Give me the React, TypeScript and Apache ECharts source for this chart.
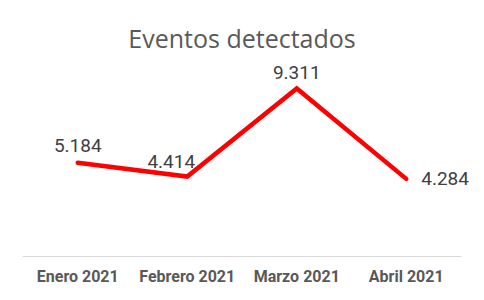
import React, { useEffect, useRef } from "react";
import * as echarts from "echarts";

const categories = ["Enero 2021", "Febrero 2021", "Marzo 2021", "Abril 2021"];
const values = [5184, 4414, 9311, 4284];
const titleText = "Eventos detectados";

const fmt = (v: number) => {
  const s = String(Math.round(v));
  return s.replace(/\B(?=(\d{3})+(?!\d))/g, ".");
};

export default function App() {
  const ref = useRef<HTMLDivElement>(null);
  useEffect(() => {
    document.body.style.margin = "0";
    const chart = echarts.init(ref.current!, undefined, { renderer: "svg" });
    const labelPos: any[] = [
      { position: "top", distance: 8 },
      { position: "top", distance: 6, offset: [-16, 0] },
      { position: "top", distance: 6 },
      { position: "right", distance: 15 },
    ];
    chart.setOption({
      animation: false,
      backgroundColor: "#ffffff",
      title: {
        text: titleText,
        left: "center",
        top: 20,
        textStyle: {
          fontFamily: "Open Sans",
          fontSize: 25,
          fontWeight: "normal",
          color: "#595959",
        },
      },
      grid: { left: 23, right: 23, top: 76, bottom: 44 },
      xAxis: {
        type: "category",
        data: categories,
        boundaryGap: true,
        axisLine: { lineStyle: { color: "#d9d9d9", width: 1 } },
        axisTick: { show: false },
        axisLabel: {
          fontFamily: "Roboto",
          fontWeight: "bold",
          fontSize: 16,
          color: "#595959",
          margin: 12,
          interval: 0,
        },
      },
      yAxis: {
        type: "value",
        min: 0,
        max: 10000,
        show: false,
        splitLine: { show: false },
      },
      series: [
        {
          type: "line",
          data: values.map((v, i) => ({
            value: v,
            label: { show: true, ...labelPos[i] },
          })),
          showSymbol: true,
          symbol: "circle",
          symbolSize: 0,
          itemStyle: { color: "#ff0000" },
          lineStyle: { color: "#ff0000", width: 4.5, cap: "round", join: "miter" },
          label: {
            show: true,
            fontFamily: "Roboto",
            fontSize: 19,
            color: "#404040",
            formatter: (p: any) => fmt(p.value),
          },
        },
      ],
    });
    return () => chart.dispose();
  }, []);
  return (
    <div
      ref={ref}
      style={{ position: "fixed", left: 0, top: 0, width: 484, height: 300 }}
    />
  );
}
